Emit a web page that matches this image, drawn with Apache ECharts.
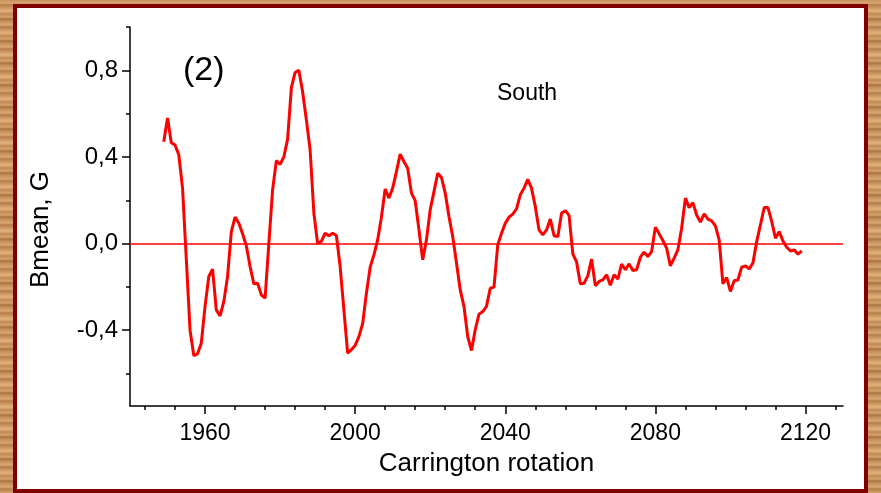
<!DOCTYPE html>
<html>
<head>
<meta charset="utf-8">
<title>Bmean South</title>
<script src="https://cdn.jsdelivr.net/npm/echarts@6/dist/echarts.min.js"></script>
<style>
  html, body { margin: 0; padding: 0; }
  body {
    width: 881px; height: 493px; overflow: hidden; position: relative;
    background: repeating-linear-gradient(180deg,
      #c8925c 0px, #d8a872 3px, #b47d48 5px, #cf9a63 8px,
      #e2b37d 11px, #c18953 14px, #d6a36c 17px, #a9723f 19px, #cd9760 22px);
  }
  #panel {
    position: absolute; left: 13px; top: 4px; width: 855px; height: 489px;
    box-sizing: border-box; border: 4px solid #800000; background: #ffffff;
  }
  #chart { position: absolute; left: 0; top: 0; width: 881px; height: 493px; }
</style>
</head>
<body>
<div id="panel"></div>
<div id="chart"></div>
<script>
// Mean field (G) of the southern hemisphere per Carrington rotation
const firstRotation = 1949;
const bmean = [
  0.47, 0.58, 0.466, 0.455, 0.41, 0.256, -0.07, -0.40, -0.517, -0.509,
  -0.46, -0.29, -0.152, -0.118, -0.306, -0.334, -0.268, -0.152, 0.055, 0.122,
  0.094, 0.045, -0.01, -0.106, -0.186, -0.183, -0.237, -0.252, 0.0, 0.248,
  0.383, 0.366, 0.40, 0.482, 0.72, 0.79, 0.80, 0.70, 0.571, 0.432,
  0.14, 0.0, 0.01, 0.048, 0.036, 0.048, 0.037, -0.106, -0.306, -0.506,
  -0.49, -0.47, -0.43, -0.37, -0.229, -0.109, -0.052, 0.017, 0.122, 0.252,
  0.21, 0.256, 0.332, 0.413, 0.378, 0.348, 0.233, 0.198, 0.063, -0.075,
  0.017, 0.156, 0.24, 0.325, 0.305, 0.233, 0.125, 0.032, -0.09, -0.214,
  -0.29, -0.43, -0.494, -0.398, -0.326, -0.314, -0.29, -0.206, -0.201, -0.006,
  0.048, 0.094, 0.122, 0.136, 0.16, 0.225, 0.256, 0.297, 0.256, 0.171,
  0.063, 0.04, 0.063, 0.113, 0.036, 0.032, 0.14, 0.152, 0.13, -0.048,
  -0.085, -0.186, -0.183, -0.149, -0.072, -0.195, -0.175, -0.168, -0.144, -0.192,
  -0.144, -0.164, -0.095, -0.121, -0.094, -0.124, -0.121, -0.063, -0.04, -0.06,
  -0.037, 0.076, 0.045, 0.014, -0.021, -0.103, -0.067, -0.029, 0.071, 0.21,
  0.166, 0.189, 0.132, 0.099, 0.137, 0.113, 0.105, 0.082, 0.017, -0.186,
  -0.157, -0.221, -0.172, -0.168, -0.109, -0.103, -0.117, -0.09, 0.009, 0.086,
  0.166, 0.166, 0.102, 0.025, 0.055, 0.012, -0.017, -0.034, -0.029, -0.049,
  -0.034
];
const rotations = bmean.map((_, i) => firstRotation + i);

// Axis ticks
const xMajorTicks = [1960, 2000, 2040, 2080, 2120];
const xMinorTicks = [1944, 1952, 1968, 1976, 1984, 1992, 2008, 2016, 2024, 2032,
                     2048, 2056, 2064, 2072, 2088, 2096, 2104, 2112, 2128];
const yMajorTicks = [-0.4, 0.0, 0.4, 0.8];
const yMinorTicks = [-0.6, -0.2, 0.2, 0.6, 1.0];

const FONT = 'Liberation Sans, Arial, sans-serif';
const X_MIN = 1940, X_MAX = 2130, Y_MIN = -0.75, Y_MAX = 1.0;

const chart = echarts.init(document.getElementById('chart'), null, { renderer: 'canvas' });

const axisLine = { show: true, onZero: false, lineStyle: { color: '#000', width: 1.5 } };

chart.setOption({
  backgroundColor: 'transparent',
  animation: false,
  grid: { left: 130, top: 27, width: 713, height: 379, containLabel: false },
  xAxis: [
    {
      type: 'value', min: X_MIN, max: X_MAX, position: 'bottom',
      axisLine: axisLine,
      axisTick: { show: true, length: 8, customValues: xMajorTicks, lineStyle: { color: '#000', width: 1.5 } },
      axisLabel: { show: true, customValues: xMajorTicks, margin: 16, color: '#000',
                   fontFamily: FONT, fontSize: 23, formatter: v => String(v) },
      splitLine: { show: false },
      name: 'Carrington rotation', nameLocation: 'middle', nameGap: 45,
      nameTextStyle: { color: '#000', fontFamily: FONT, fontSize: 26 }
    },
    {
      type: 'value', min: X_MIN, max: X_MAX, position: 'bottom',
      axisLine: { show: false, onZero: false },
      axisTick: { show: true, length: 4, customValues: xMinorTicks, lineStyle: { color: '#000', width: 1.5 } },
      axisLabel: { show: false },
      splitLine: { show: false }
    }
  ],
  yAxis: [
    {
      type: 'value', min: Y_MIN, max: Y_MAX, position: 'left',
      axisLine: axisLine,
      axisTick: { show: true, length: 8, customValues: yMajorTicks, lineStyle: { color: '#000', width: 1.5 } },
      axisLabel: { show: true, customValues: yMajorTicks, margin: 12, color: '#000',
                   fontFamily: FONT, fontSize: 24,
                   formatter: v => v.toFixed(1).replace('.', ',') },
      splitLine: { show: false },
      name: 'Bmean, G', nameLocation: 'middle', nameRotate: 90, nameGap: 76,
      nameTextStyle: { color: '#000', fontFamily: FONT, fontSize: 26, padding: [0, 26, 0, 0] }
    },
    {
      type: 'value', min: Y_MIN, max: Y_MAX, position: 'left',
      axisLine: { show: false, onZero: false },
      axisTick: { show: true, length: 4, customValues: yMinorTicks, lineStyle: { color: '#000', width: 1.5 } },
      axisLabel: { show: false },
      splitLine: { show: false }
    }
  ],
  graphic: [
    { type: 'text', left: 183, top: 54,
      style: { text: '(2)', fill: '#000', font: '34px ' + FONT } },
    { type: 'text', left: 497, top: 82,
      style: { text: 'South', fill: '#000', font: '23px ' + FONT } }
  ],
  series: [
    {
      type: 'line',
      xAxisIndex: 0, yAxisIndex: 0,
      data: rotations.map((r, i) => [r, bmean[i]]),
      showSymbol: false, symbol: 'none',
      lineStyle: { color: '#ff0000', width: 3 },
      markLine: {
        silent: true, symbol: 'none', animation: false,
        label: { show: false },
        lineStyle: { color: '#ff0000', width: 1.5, type: 'solid' },
        data: [{ yAxis: 0 }]
      }
    }
  ]
});
</script>
</body>
</html>
